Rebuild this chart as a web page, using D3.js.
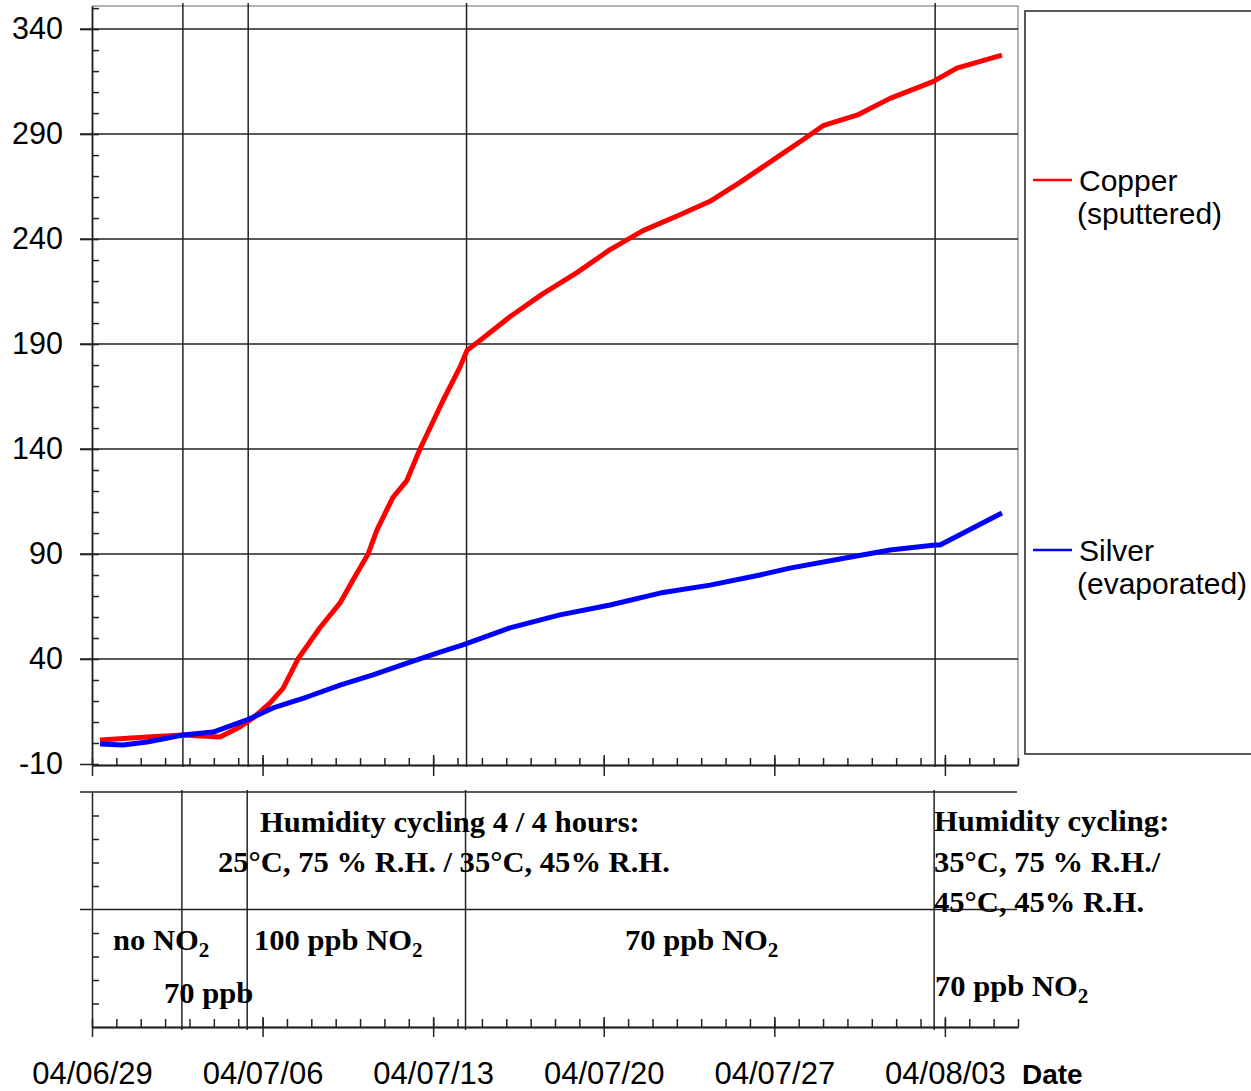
<!DOCTYPE html>
<html>
<head>
<meta charset="utf-8">
<script src="https://cdn.jsdelivr.net/npm/d3@7"></script>
<style>
  body { margin: 0; background: #fff; }
  svg text { fill: #000; }
</style>
</head>
<body>
<div id="chart"></div>
<script>
// Data (x = days since 04/06/29)
var tickDays = [0, 7, 14, 21, 28, 35];
var tickLabels = ["04/06/29", "04/07/06", "04/07/13", "04/07/20", "04/07/27", "04/08/03"];
var eventDays = [3.73, 6.41, 15.37, 34.6];
var yTicks = [-10, 40, 90, 140, 190, 240, 290, 340];

var copperDays = [0.33, 2.26, 3.73, 5.25, 6.07, 6.61, 7.30, 7.84, 8.45, 9.36, 10.18, 10.71, 11.33, 11.69,
    12.35, 12.92, 13.46, 14.40, 15.10, 15.39, 15.84, 17.15, 18.51, 19.90, 21.26, 22.61, 24.01, 25.36,
    26.59, 27.94, 29.34, 30.00, 31.39, 32.75, 34.51, 35.49, 37.34];
var copperValues = [1.4, 2.9, 3.8, 2.9, 7.6, 11.9, 19, 26, 40, 55, 66.7, 77.6, 90, 101.4,
    117, 125, 140, 163, 179, 187, 191, 203, 214, 224, 235, 244, 251, 258,
    267, 277.6, 288.6, 294, 299, 307, 315, 321.4, 327.6];

var silverDays = [0.33, 1.27, 2.26, 3.73, 4.97, 5.79, 6.36, 7.43, 8.82, 10.18, 11.53, 12.93, 14.28,
    15.22, 17.15, 19.20, 21.26, 23.31, 25.36, 27.41, 28.64, 30.69, 32.75, 34.60, 34.80, 36.15, 37.34];
var silverValues = [-0.5, -1, 0.5, 3.8, 5.2, 8.6, 11, 16.7, 21.9, 27.6, 32.4, 38, 43.3,
    46.7, 54.8, 61, 65.7, 71.4, 75.2, 80, 83.3, 87.6, 91.9, 94.3, 94.3, 102.4, 109.5];

var seriesNames = ["Copper", "Silver"];
var seriesSub = ["(sputtered)", "(evaporated)"];

var width = 1251, height = 1091;
var sans = "'Liberation Sans', Arial, sans-serif";
var serif = "'Liberation Serif', 'Times New Roman', serif";
var dark = "#222";

var svg = d3.select("#chart").append("svg")
    .attr("width", width)
    .attr("height", height);

var x = d3.scaleLinear().domain([0, 38]).range([92, 1018]);
var y = d3.scaleLinear().domain([-10, 351]).range([764, 6]);
// lower annotation panel, 10 tick steps
var yb = d3.scaleLinear().domain([0, 10]).range([1027, 792]);

// ---- main plot frame (top + right, gray)
svg.append("path")
    .attr("d", "M" + x(0) + "," + y(351) + "H" + x(38) + "V" + y(-10))
    .attr("fill", "none").attr("stroke", "#9a9a9a").attr("stroke-width", 1.5);

// horizontal gridlines (also act as outward major ticks)
svg.append("g").selectAll("line")
    .data(yTicks.slice(1))
    .enter().append("line")
    .attr("x1", x(0) - 12).attr("x2", x(38))
    .attr("y1", function (d) { return y(d); })
    .attr("y2", function (d) { return y(d); })
    .attr("stroke", dark).attr("stroke-width", 1.5);

// y axis with labels (plain hyphen for negatives, like the original)
var yAxis = svg.append("g")
    .attr("transform", "translate(" + x(0) + ",0)")
    .call(d3.axisLeft(y).tickValues(yTicks).tickSize(12).tickSizeOuter(0).tickPadding(17)
        .tickFormat(function (d) { return String(d); }));
yAxis.selectAll("text").attr("font-family", sans).attr("font-size", 30.5).attr("fill", "#000");

// y minor ticks inside
svg.append("g")
    .attr("transform", "translate(" + x(0) + ",0)")
    .call(d3.axisRight(y).tickValues(d3.range(-10, 351, 10)).tickSize(7).tickFormat("").tickSizeOuter(0));

// x axis main: minor daily ticks upward, major weekly ticks both sides
var mainAxisY = y(-10) + 1;
svg.append("g")
    .attr("transform", "translate(0," + mainAxisY + ")")
    .call(d3.axisTop(x).tickValues(d3.range(0, 39, 1)).tickSize(7).tickFormat("").tickSizeOuter(0));
svg.append("g")
    .attr("transform", "translate(0," + mainAxisY + ")")
    .call(d3.axisTop(x).tickValues(tickDays.slice(1)).tickSize(10).tickFormat("").tickSizeOuter(0));
svg.append("g")
    .attr("transform", "translate(0," + mainAxisY + ")")
    .call(d3.axisBottom(x).tickValues(tickDays).tickSize(11).tickFormat("").tickSizeOuter(0));

// event lines through the main plot
svg.append("g").selectAll("line")
    .data(eventDays)
    .enter().append("line")
    .attr("x1", function (d) { return x(d); })
    .attr("x2", function (d) { return x(d); })
    .attr("y1", 3).attr("y2", mainAxisY + 2)
    .attr("stroke", dark).attr("stroke-width", 1.5);

// ---- series
var line = d3.line()
    .x(function (d) { return x(d[0]); })
    .y(function (d) { return y(d[1]); });

var copper = d3.zip(copperDays, copperValues);
var silver = d3.zip(silverDays, silverValues);

svg.append("path").datum(copper)
    .attr("d", line).attr("fill", "none")
    .attr("stroke", "#ff0000").attr("stroke-width", 5).attr("stroke-linejoin", "round");
svg.append("path").datum(silver)
    .attr("d", line).attr("fill", "none")
    .attr("stroke", "#0000ff").attr("stroke-width", 5).attr("stroke-linejoin", "round");

// style all axis strokes
svg.selectAll(".domain, .tick line").attr("stroke", dark).attr("stroke-width", 1.5);

// ---- legend
svg.append("rect")
    .attr("x", 1025).attr("y", 11).attr("width", 300).attr("height", 743)
    .attr("fill", "none").attr("stroke", dark).attr("stroke-width", 1.5);

var legendY = [180, 550];
var legendColors = ["#ff0000", "#0000ff"];
seriesNames.forEach(function (name, i) {
    var ly = legendY[i];
    svg.append("line")
        .attr("x1", 1033).attr("x2", 1072).attr("y1", ly).attr("y2", ly)
        .attr("stroke", legendColors[i]).attr("stroke-width", 2.5);
    svg.append("text").attr("x", 1079).attr("y", ly + 11)
        .attr("font-family", sans).attr("font-size", 30).text(name);
    svg.append("text").attr("x", 1077).attr("y", ly + 44)
        .attr("font-family", sans).attr("font-size", 30).text(seriesSub[i]);
});

// ---- lower annotation panel
svg.append("g").selectAll("line")
    .data([10, 5])
    .enter().append("line")
    .attr("x1", x(0) - 12).attr("x2", x(38) - 1)
    .attr("y1", function (d) { return yb(d); })
    .attr("y2", function (d) { return yb(d); })
    .attr("stroke", dark).attr("stroke-width", 1.5);

svg.append("g")
    .attr("transform", "translate(" + x(0) + ",0)")
    .call(d3.axisRight(yb).tickValues([1, 2, 3, 4, 6, 7, 8, 9]).tickSize(7).tickFormat("").tickSizeOuter(0));

svg.append("g").selectAll("line")
    .data(eventDays)
    .enter().append("line")
    .attr("x1", function (d) { return x(d) - 1; })
    .attr("x2", function (d) { return x(d) - 1; })
    .attr("y1", yb(10) - 2).attr("y2", yb(0) + 3)
    .attr("stroke", dark).attr("stroke-width", 1.5);

svg.append("g")
    .attr("transform", "translate(0," + yb(0) + ")")
    .call(d3.axisTop(x).tickValues(d3.range(0, 39, 1)).tickSize(8).tickFormat("").tickSizeOuter(0));
svg.append("g")
    .attr("transform", "translate(0," + yb(0) + ")")
    .call(d3.axisTop(x).tickValues(tickDays.slice(1)).tickSize(10).tickFormat("").tickSizeOuter(0));
var bottomAxis = svg.append("g")
    .attr("transform", "translate(0," + yb(0) + ")")
    .call(d3.axisBottom(x).tickValues(tickDays).tickSize(10).tickSizeOuter(0).tickPadding(25)
        .tickFormat(function (d, i) { return tickLabels[i]; }));
bottomAxis.selectAll("text").attr("font-family", sans).attr("font-size", 31).attr("fill", "#000");

svg.selectAll(".domain, .tick line").attr("stroke", dark).attr("stroke-width", 1.5);

svg.append("text").attr("x", 1022).attr("y", 1084)
    .attr("font-family", sans).attr("font-size", 28).attr("font-weight", "bold").text("Date");

// annotation text (Times bold, slightly widened like the original)
var notes = [
    { t: "Humidity cycling 4 / 4 hours:", x: 260, y: 832 },
    { t: "25\u00B0C, 75 % R.H. / 35\u00B0C, 45% R.H.", x: 218, y: 872 },
    { t: "no NO", sub: "2", x: 113, y: 950 },
    { t: "70 ppb", x: 164, y: 1003 },
    { t: "100 ppb NO", sub: "2", x: 254, y: 950 },
    { t: "70 ppb NO", sub: "2", x: 625, y: 950 },
    { t: "Humidity cycling:", x: 934, y: 831 },
    { t: "35\u00B0C, 75 % R.H./", x: 934, y: 872 },
    { t: "45\u00B0C, 45% R.H.", x: 934, y: 912 },
    { t: "70 ppb NO", sub: "2", x: 935, y: 996 }
];
notes.forEach(function (n) {
    var t = svg.append("text")
        .attr("transform", "translate(" + n.x + "," + n.y + ") scale(1.055,1)")
        .attr("font-family", serif).attr("font-size", 29).attr("font-weight", "bold")
        .text(n.t);
    if (n.sub) {
        t.append("tspan").attr("font-size", 20).attr("dy", 7).text(n.sub);
    }
});
</script>
</body>
</html>
